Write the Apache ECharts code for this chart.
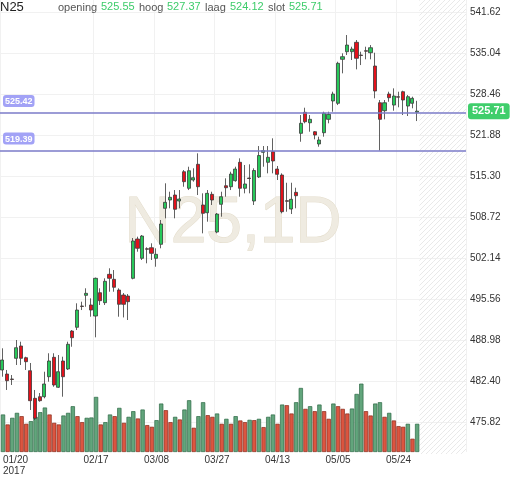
<!DOCTYPE html>
<html>
<head>
<meta charset="utf-8">
<script src="https://cdn.jsdelivr.net/npm/echarts@6/dist/echarts.min.js"></script>
<style>
  html, body { margin: 0; padding: 0; background: #fff; }
  #main { width: 512px; height: 477px; }
</style>
</head>
<body>
<div id="main"></div>
<script>
// trading days shown on the chart (2017)
const dates = [
  '01/20','01/23','01/24','01/25','01/26','01/27','01/30','01/31',
  '02/01','02/02','02/03','02/06','02/07','02/08','02/09','02/10','02/13','02/14','02/15','02/16','02/17',
  '02/20','02/21','02/22','02/23','02/24','02/27','02/28',
  '03/01','03/02','03/03','03/06','03/07','03/08','03/09','03/10','03/13','03/14','03/15','03/16','03/17',
  '03/20','03/21','03/22','03/23','03/24','03/27','03/28','03/29','03/30','03/31',
  '04/03','04/04','04/05','04/06','04/07','04/10','04/11','04/12','04/13','04/18','04/19','04/20','04/21',
  '04/24','04/25','04/26','04/27','04/28',
  '05/02','05/03','05/04','05/05','05/08','05/09','05/10','05/11','05/12','05/15','05/16','05/17','05/18','05/19',
  '05/22','05/23','05/24','05/25','05/26','05/29','05/30'
];
const futureSlots = 10;

const opens = [
  484.17,483.52,482.72,486.04,488.02,486.14,484.05,479.62,479.88,479.88,
  483.09,486.20,481.39,485.61,484.33,490.42,491.02,494.44,496.15,494.60,
  492.83,496.57,494.97,499.52,498.72,497.00,496.20,496.04,498.88,505.19,
  502.09,503.63,503.79,502.09,504.34,510.12,511.45,512.25,511.29,515.99,
  513.33,514.66,517.18,510.65,509.41,512.36,506.31,510.76,513.74,513.58,
  514.55,517.50,513.33,514.98,511.29,515.14,519.10,517.50,519.20,516.42,
  515.46,511.34,510.00,512.68,522.15,525.52,523.85,522.41,520.44,522.25,
  524.40,527.34,526.97,534.03,535.25,535.25,536.76,534.72,535.41,535.09,
  532.95,527.06,525.78,528.46,526.69,528.03,528.83,526.53,526.97,525.55
];
const closes = [
  485.77,482.45,482.65,487.74,486.04,485.50,479.24,476.41,479.24,481.92,
  485.61,481.76,483.89,483.09,488.29,489.35,493.79,494.36,496.47,493.79,
  498.88,495.29,498.40,498.88,497.44,494.71,494.71,495.13,504.87,503.70,
  505.67,503.54,502.89,502.73,507.60,511.08,511.88,509.96,511.61,514.39,
  516.15,515.03,513.58,509.31,512.52,511.45,509.20,511.98,513.42,515.62,
  516.42,513.33,514.02,514.90,516.18,518.59,519.36,518.30,517.71,515.57,
  509.57,511.24,511.56,512.14,523.76,524.01,524.40,521.88,521.08,525.36,
  525.20,528.46,533.39,534.45,536.32,535.68,534.19,534.64,535.33,535.89,
  528.94,524.40,527.06,527.87,528.14,527.95,527.50,528.03,527.77,525.71
];
const lows = [
  483.09,480.96,481.76,484.97,484.97,484.17,477.75,476.14,479.08,479.62,
  482.29,481.48,481.28,479.88,484.17,487.90,490.58,493.79,494.32,492.72,
  489.41,494.60,494.60,496.73,496.73,492.72,492.60,492.19,498.72,503.15,
  501.82,501.29,501.82,500.74,503.70,508.51,510.12,508.51,510.12,513.58,
  513.05,514.39,512.25,506.10,507.97,510.65,506.10,508.77,511.98,513.05,
  514.39,511.98,512.52,512.52,510.65,514.98,516.79,515.73,515.73,514.66,
  509.31,509.57,509.20,510.12,520.80,523.76,522.41,521.19,520.00,521.61,
  523.76,525.62,526.69,531.78,534.72,533.92,532.42,533.11,534.03,534.03,
  527.77,519.39,524.40,527.22,525.78,526.33,525.09,524.93,526.17,524.12
];
const highs = [
  487.65,484.17,483.36,488.98,488.71,486.30,485.29,480.96,480.47,483.89,
  486.85,486.85,486.57,486.30,488.71,490.58,494.87,495.13,497.28,495.67,
  499.00,497.28,498.88,500.49,500.21,497.28,496.52,496.36,505.35,505.56,
  505.83,503.86,504.50,503.70,508.24,514.13,512.78,513.05,513.05,516.26,
  516.79,516.54,518.94,512.52,513.05,512.78,509.36,512.78,514.93,515.99,
  516.79,518.14,517.07,517.18,516.54,520.11,520.11,520.11,521.35,516.91,
  515.73,514.22,514.22,513.42,525.09,526.26,525.09,522.52,521.61,525.62,
  525.62,528.83,533.64,534.99,537.93,536.05,537.13,535.25,536.05,536.32,
  535.09,527.50,527.50,528.83,529.37,528.83,528.99,528.30,528.03,527.37
];
const volumes = [
  113,83,103,118,108,85,93,106,120,134,
  113,88,83,110,118,138,108,90,103,104,
  166,83,90,113,108,133,88,106,123,101,
  128,81,76,96,146,126,90,106,98,128,
  156,73,108,150,111,106,116,85,100,85,
  108,95,90,97,96,100,75,106,113,85,
  143,141,116,150,193,130,138,123,143,123,
  100,146,138,130,116,131,175,206,123,110,
  146,150,106,118,95,78,76,85,40,85
];

const priceTicks = [475.82,482.40,488.98,495.56,502.14,508.72,515.30,521.88,528.46,535.04,541.62];
const levelLines = [525.42, 519.39];
const tickDates = ['01/20','02/17','03/08','03/27','04/13','05/05','05/24'];
const yearLabel = '2017';
const symbolName = 'N25';
const period = '1D';

const last = dates.length - 1;
const step = +(priceTicks[1] - priceTicks[0]).toFixed(2);
const cats = dates.concat(Array.from({length: futureSlots}, (_, k) => '+' + (k + 1)));
const showTick = (idx, val) => tickDates.indexOf(val) >= 0;

const UP = '#27c85a', DOWN = '#e3111b';
const VOL_UP = '#62a57c', VOL_UP_B = '#2c6845';
const VOL_DN = '#dc5540', VOL_DN_B = '#87291a';
const FONT = '"Liberation Sans", Arial, sans-serif';

// diagonal hatch for the empty future area
const hatch = document.createElement('canvas');
hatch.width = 5; hatch.height = 5;
const hg = hatch.getContext('2d');
hg.strokeStyle = '#e9e9e9';
hg.lineWidth = 1;
hg.beginPath();
hg.moveTo(0, 5); hg.lineTo(5, 0);
hg.moveTo(-1, 1); hg.lineTo(1, -1);
hg.moveTo(4, 6); hg.lineTo(6, 4);
hg.stroke();

const chart = echarts.init(document.getElementById('main'));

const header = [
  {t: symbolName, x: 0, y: 1, c: '#222', s: 13},
  {t: 'opening', x: 58, y: 2, c: '#555', s: 11},
  {t: opens[last].toFixed(2), x: 101, y: 1, c: '#3dcc6a', s: 11},
  {t: 'hoog', x: 139, y: 2, c: '#555', s: 11},
  {t: highs[last].toFixed(2), x: 167, y: 1, c: '#3dcc6a', s: 11},
  {t: 'laag', x: 205, y: 2, c: '#555', s: 11},
  {t: lows[last].toFixed(2), x: 230, y: 1, c: '#3dcc6a', s: 11},
  {t: 'slot', x: 268, y: 2, c: '#555', s: 11},
  {t: closes[last].toFixed(2), x: 289, y: 1, c: '#3dcc6a', s: 11}
];

chart.setOption({
  animation: false,
  backgroundColor: '#fff',
  graphic: [
    {
      type: 'text', x: 233, y: 224, z: 1, silent: true,
      style: {
        text: symbolName + ',' + period, font: '64px ' + FONT,
        fill: '#efebe1', stroke: '#e3dccb', lineWidth: 1,
        align: 'center', verticalAlign: 'middle',
        textAlign: 'center', textVerticalAlign: 'middle'
      }
    }
  ].concat(header.map(h => ({
    type: 'text', x: h.x, y: h.y, z: 10, silent: true,
    style: {text: h.t, fill: h.c, font: h.s + 'px ' + FONT, verticalAlign: 'top', textVerticalAlign: 'top'}
  }))),
  grid: [
    {left: 0, right: 46, top: 0, height: 463},
    {left: 0, right: 46, top: 0, bottom: 23},
    {left: 0, right: 46, top: 0, bottom: 23}
  ],
  xAxis: [
    {type: 'category', gridIndex: 0, data: cats, show: false},
    {
      type: 'category', gridIndex: 1, data: cats,
      axisLine: {show: false}, axisTick: {show: false},
      axisLabel: {
        interval: showTick, margin: 3, fontSize: 10, color: '#333', fontFamily: FONT,
        lineHeight: 11, alignMinLabel: 'left',
        formatter: v => v === tickDates[0] ? v + '\n' + yearLabel : v
      },
      splitLine: {show: true, interval: showTick, lineStyle: {color: '#f1f1f1', width: 1}}
    },
    {type: 'category', gridIndex: 2, data: cats, show: false}
  ],
  yAxis: [
    {
      type: 'value', gridIndex: 0, position: 'right',
      min: +(priceTicks[0] - step).toFixed(2), max: 543.55, interval: step,
      axisLine: {show: false}, axisTick: {show: false},
      axisLabel: {
        showMinLabel: false, showMaxLabel: false, margin: 4,
        fontSize: 10, color: '#333', fontFamily: FONT,
        formatter: v => v.toFixed(2)
      },
      splitLine: {show: true, showMinLine: false, showMaxLine: false, lineStyle: {color: '#f1f1f1'}}
    },
    {type: 'value', gridIndex: 1, min: 0, max: 1362, show: false},
    {type: 'value', gridIndex: 2, min: 0, max: 1, show: false}
  ],
  series: [
    {
      name: 'future', type: 'bar', xAxisIndex: 2, yAxisIndex: 2, silent: true, z: 0,
      barCategoryGap: 0,
      data: cats.map((c, i) => i > last ? 1 : '-'),
      itemStyle: {color: {image: hatch, repeat: 'repeat'}}
    },
    {
      name: 'volume', type: 'bar', xAxisIndex: 1, yAxisIndex: 1, silent: true, z: 1,
      barCategoryGap: '8%',
      data: volumes.map((v, i) => {
        const up = i === 0 || v > volumes[i - 1];
        return {value: v, itemStyle: {color: up ? VOL_UP : VOL_DN, borderColor: up ? VOL_UP_B : VOL_DN_B, borderWidth: 0.7}};
      })
    },
    {
      name: symbolName, type: 'candlestick', xAxisIndex: 0, yAxisIndex: 0, z: 3,
      barWidth: 3.6,
      data: dates.map((d, i) => [opens[i], closes[i], lows[i], highs[i]]),
      itemStyle: {color: UP, color0: DOWN, borderColor: '#3a3a3a', borderColor0: '#3a3a3a', borderWidth: 0.8},
      markLine: {
        silent: true, symbol: 'none', animation: false,
        lineStyle: {color: '#7b7bc9', width: 1.5, type: 'solid'},
        label: {
          position: 'insideStartTop', distance: [3, 6],
          formatter: p => p.value.toFixed(2),
          color: '#fff', fontSize: 9, fontWeight: 'bold', fontFamily: FONT,
          backgroundColor: '#a2a2f6', padding: [2, 2, 1, 2], borderRadius: 3
        },
        data: levelLines.map(v => ({yAxis: v})).concat([{
          yAxis: closes[last],
          lineStyle: {color: 'rgba(0,0,0,0)', width: 0},
          label: {
            show: true, position: 'end', distance: 2, color: '#fff', fontSize: 11, fontWeight: 'bold',
            fontFamily: FONT, backgroundColor: '#3fce6b', padding: [3, 4, 2, 4], borderRadius: 3
          }
        }])
      }
    }
  ]
});
</script>
</body>
</html>
